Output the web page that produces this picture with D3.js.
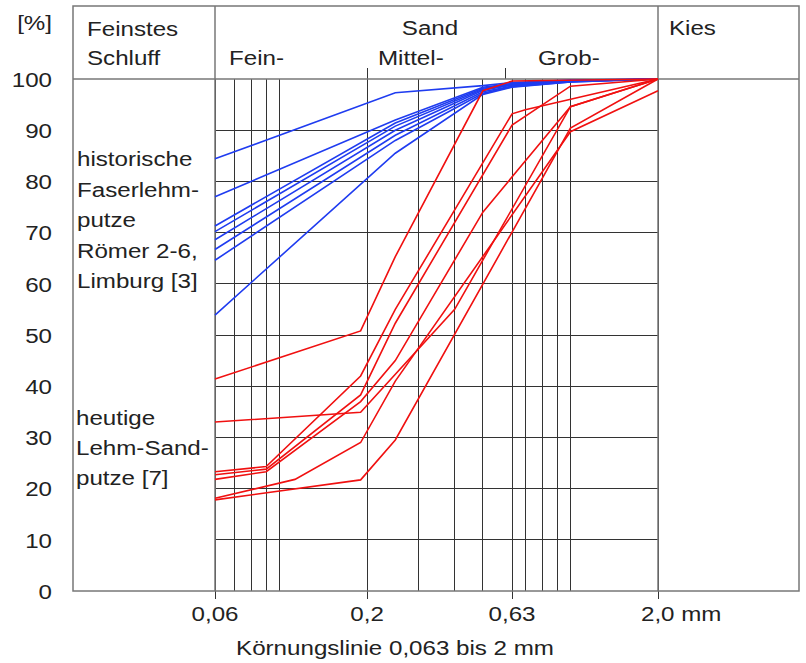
<!DOCTYPE html>
<html lang="de">
<head>
  <meta charset="UTF-8">
  <title>Körnungslinie</title>
  <style>
    body { margin: 0; background: #fff; }
    svg { display: block; }
    text { font-family: "Liberation Sans", Arial, sans-serif; fill: #222; }
  </style>
</head>
<body>
  <script src="https://d3js.org/d3.v7.min.js"></script>
  <script>
    'use strict';

    // y ticks [%]
    const percentTicks = [0, 10, 20, 30, 40, 50, 60, 70, 80, 90, 100];
    // vertical grid lines (mm)
    const sieveGrid = [0.06, 0.07, 0.08, 0.09, 0.1, 0.2, 0.3, 0.4, 0.5, 0.63, 0.7, 0.8, 0.9, 1, 2];
    const sieveLabels = [0.06, 0.2, 0.63, 2];
    const sieveLabelText = ['0,06', '0,2', '0,63', '2,0 mm'];
    // boundaries Fein/Mittel/Grob in the header
    const fractionBounds = [0.2, 0.6];

    // historische Faserlehmputze (blue)
    const blueCurves = [
      [[0.06, 84.4], [0.25, 97.3], [0.5, 98.7], [0.63, 99.3], [1, 99.8], [2, 100]],
      [[0.06, 77.0], [0.25, 92.0], [0.5, 98.4], [0.63, 99.1], [1, 99.7], [2, 100]],
      [[0.06, 71.3], [0.25, 91.4], [0.5, 98.2], [0.63, 99.0], [1, 99.6], [2, 100]],
      [[0.06, 70.2], [0.25, 90.8], [0.5, 98.0], [0.63, 98.9], [1, 99.6], [2, 100]],
      [[0.06, 68.6], [0.25, 90.0], [0.5, 97.8], [0.63, 98.8], [1, 99.5], [2, 100]],
      [[0.06, 66.7], [0.25, 89.0], [0.5, 97.5], [0.63, 98.6], [1, 99.5], [2, 100]],
      [[0.06, 64.6], [0.25, 88.0], [0.5, 97.2], [0.63, 98.5], [1, 99.4], [2, 100]],
      [[0.06, 53.9], [0.25, 85.5], [0.5, 97.0], [0.63, 98.4], [1, 99.4], [2, 100]]
    ];

    // heutige Lehm-Sandputze (red)
    const redCurves = [
      [[0.06, 41.4], [0.19, 50.8], [0.25, 65.3], [0.5, 97.7], [0.63, 99.6], [2, 100]],
      [[0.06, 33.0], [0.19, 34.9], [0.4, 55.0], [1, 94.6], [2, 100]],
      [[0.06, 23.3], [0.09, 24.3], [0.19, 42.0], [0.25, 55.0], [0.63, 93.2], [0.7, 94.0], [2, 100]],
      [[0.06, 22.7], [0.09, 23.8], [0.19, 38.3], [0.25, 52.3], [0.63, 91.0], [1, 98.6], [2, 100]],
      [[0.06, 21.8], [0.09, 23.3], [0.19, 37.0], [0.25, 45.0], [0.5, 74.0], [1, 94.6], [2, 100]],
      [[0.06, 18.1], [0.113, 21.8], [0.19, 29.0], [0.25, 41.0], [1, 89.7], [2, 97.7]],
      [[0.06, 17.8], [0.19, 21.7], [0.25, 29.5], [1, 90.4], [2, 100]]
    ];

    const width = 806;
    const height = 663;

    const frameLeft = 73;
    const frameRight = 799;
    const frameTop = 6;
    const fontSize = 21;
    const stretch = 1.15;

    const x = d3.scaleLog().domain([0.06, 2]).range([215, 658]);
    const y = d3.scaleLinear().domain([0, 100]).range([591, 79]);

    const svg = d3.select('body')
      .append('svg')
      .attr('width', width)
      .attr('height', height);

    // put a text at (tx, ty), slightly wide like the original
    function label(tx, ty, str, anchor) {
      return svg.append('text')
        .attr('transform', 'translate(' + tx + ',' + ty + ') scale(' + stretch + ',1)')
        .attr('font-size', fontSize + 'px')
        .attr('text-anchor', anchor || 'start')
        .text(str);
    }

    // grid
    const grid = svg.append('g').attr('stroke', '#333').attr('stroke-width', 1).attr('shape-rendering', 'crispEdges');

    grid.selectAll('line.h')
      .data(percentTicks.filter(d => d > 0 && d < 100))
      .enter().append('line')
      .attr('class', 'h')
      .attr('x1', x(0.06)).attr('x2', x(2))
      .attr('y1', d => y(d)).attr('y2', d => y(d));

    grid.selectAll('line.v')
      .data(sieveGrid)
      .enter().append('line')
      .attr('class', 'v')
      .attr('x1', d => x(d)).attr('x2', d => x(d))
      .attr('y1', y(100))
      .attr('y2', d => sieveLabels.includes(d) ? y(0) + 8 : y(0));

    grid.selectAll('line.b')
      .data(fractionBounds)
      .enter().append('line')
      .attr('class', 'b')
      .attr('x1', d => x(d)).attr('x2', d => x(d))
      .attr('y1', y(100) - 11).attr('y2', y(100));

    // frame
    const frame = svg.append('g').attr('stroke', '#777').attr('stroke-width', 1.5).attr('fill', 'none');
    frame.append('rect')
      .attr('x', frameLeft).attr('y', frameTop)
      .attr('width', frameRight - frameLeft).attr('height', y(0) - frameTop);
    frame.append('line')
      .attr('x1', frameLeft).attr('x2', frameRight)
      .attr('y1', y(100)).attr('y2', y(100));
    frame.selectAll('line.col')
      .data([0.06, 2])
      .enter().append('line')
      .attr('class', 'col')
      .attr('x1', d => x(d)).attr('x2', d => x(d))
      .attr('y1', frameTop).attr('y2', y(0));

    // curves
    const line = d3.line().x(d => x(d[0])).y(d => y(d[1]));

    svg.append('g')
      .selectAll('path')
      .data(blueCurves)
      .enter().append('path')
      .attr('d', line)
      .attr('fill', 'none')
      .attr('stroke', '#1f3cf0')
      .attr('stroke-width', 1.6);

    svg.append('g')
      .selectAll('path')
      .data(redCurves)
      .enter().append('path')
      .attr('d', line)
      .attr('fill', 'none')
      .attr('stroke', '#f01010')
      .attr('stroke-width', 1.6);

    // y axis labels
    const yAxis = d3.axisLeft(y).tickValues(percentTicks).tickSize(0).tickPadding(0);
    const yg = svg.append('g')
      .attr('transform', 'translate(52,0)')
      .call(yAxis);
    yg.select('.domain').remove();
    yg.selectAll('.tick').attr('transform', d => 'translate(0,' + (y(d) + 1) + ')');
    yg.selectAll('.tick text')
      .attr('x', 0)
      .attr('font-size', fontSize + 'px')
      .attr('font-family', '"Liberation Sans", Arial, sans-serif')
      .attr('fill', '#222')
      .attr('transform', 'scale(' + stretch + ',1)');

    label(52, 30, '[%]', 'end');

    // x labels
    sieveLabels.forEach((v, i) => {
      if (i === sieveLabels.length - 1) {
        label(x(v) - 17, 621, sieveLabelText[i], 'start');
      } else {
        label(x(v), 621, sieveLabelText[i], 'middle');
      }
    });
    label(395, 655, 'Körnungslinie 0,063 bis 2 mm', 'middle');

    // header
    label(87, 36, 'Feinstes');
    label(87, 65, 'Schluff');
    label(430, 35, 'Sand', 'middle');
    label(229, 65, 'Fein-');
    label(378, 65, 'Mittel-');
    label(538, 65, 'Grob-');
    label(669, 35, 'Kies');

    // group labels
    ['historische', 'Faserlehm-', 'putze', 'Römer 2-6,', 'Limburg [3]']
      .forEach((s, i) => label(77, 166 + i * 30.5, s));
    ['heutige', 'Lehm-Sand-', 'putze [7]']
      .forEach((s, i) => label(76, 425 + i * 30, s));
  </script>
</body>
</html>
